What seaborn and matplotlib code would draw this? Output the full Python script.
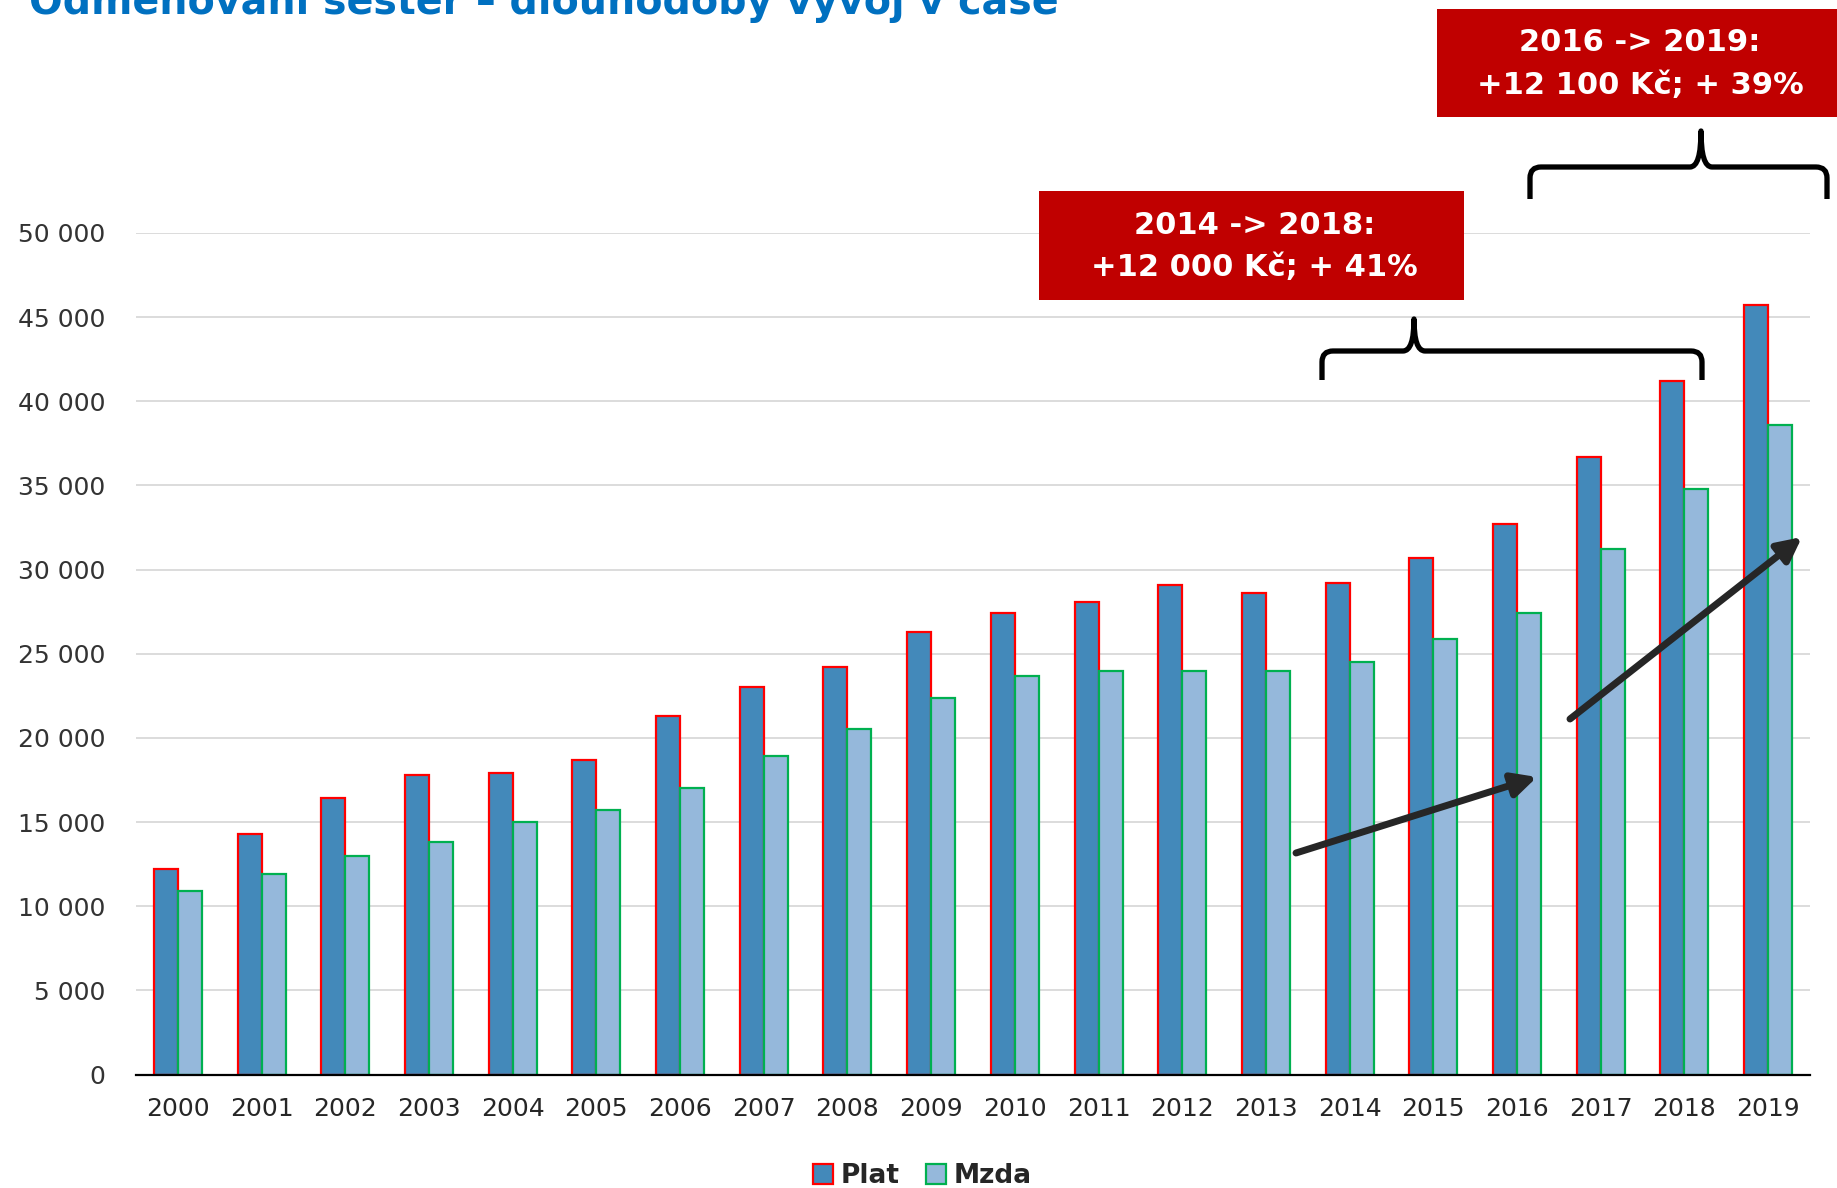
import pandas as pd
import seaborn as sns
import matplotlib.pyplot as plt
from matplotlib.path import Path
from matplotlib.patches import PathPatch, Rectangle
from matplotlib.ticker import FuncFormatter, MultipleLocator, FixedLocator

#region 1. Data
years = [str(y) for y in range(2000, 2020)]
plat = [12200, 14300, 16400, 17800, 17900, 18700, 21300, 23000, 24200, 26300,
        27400, 28100, 29100, 28600, 29200, 30700, 32700, 36700, 41200, 45700]
mzda = [10900, 11900, 13000, 13800, 15000, 15700, 17000, 18900, 20500, 22400,
        23700, 24000, 24000, 24000, 24500, 25900, 27400, 31200, 34800, 38600]
series_names = ['Plat', 'Mzda']
title = 'Odměňování sester – dlouhodobý vývoj v čase'
box_texts = ['2014 -> 2018:\n+12 000 Kč; + 41%', '2016 -> 2019:\n+12 100 Kč; + 39%']

df = pd.DataFrame({'year': years * 2,
                   'value': plat + mzda,
                   'series': ['Plat'] * len(years) + ['Mzda'] * len(years)})
#endregion

#region 2. Figure
sns.set_style('white')
plt.rcParams['font.family'] = ['DejaVu Sans']

W, H = 1837, 1188
fig = plt.figure(figsize=(W / 100, H / 100), dpi=100)
ax = fig.add_axes([136 / W, 1 - 1074.5 / H, (1810 - 136) / W, (1074.5 - 233) / H])

fills = {'Plat': '#4389BA', 'Mzda': '#95B8DB'}
edges = {'Plat': '#FF0000', 'Mzda': '#00B050'}
sns.barplot(data=df, x='year', y='value', hue='series', hue_order=series_names,
            palette=fills, saturation=1, width=0.574, ax=ax, zorder=3)
for cont, name in zip(ax.containers, series_names):
    for bar in cont:
        bar.set_edgecolor(edges[name])
        bar.set_linewidth(1.6)
ax.get_legend().remove()

ax.set_ylim(0, 50000)
ax.set_xlim(-0.5, len(years) - 0.5)
ax.yaxis.set_major_locator(MultipleLocator(5000))
ax.yaxis.set_major_formatter(FuncFormatter(lambda v, p: f'{v:,.0f}'.replace(',', ' ')))
ax.grid(axis='y', color='#D9D9D9', linewidth=1.3, zorder=0)
ax.set_axisbelow(True)
for s in ['top', 'right', 'left']:
    ax.spines[s].set_visible(False)
ax.spines['bottom'].set_color('black')
ax.spines['bottom'].set_linewidth(1.6)
ax.spines['bottom'].set_zorder(5)
ax.set_xlabel('')
ax.set_ylabel('')
ax.tick_params(axis='y', length=0, pad=22, labelsize=18, labelcolor='#333333')
ax.tick_params(axis='x', which='major', length=0, pad=16, labelsize=18, labelcolor='#262626')
ax.xaxis.set_minor_locator(FixedLocator([i - 0.5 for i in range(len(years) + 1)]))
ax.tick_params(axis='x', which='minor', length=8, width=1.6, color='black', direction='out')

handles = ax.containers[0].patches[:1] + ax.containers[1].patches[:1]
leg = fig.legend(handles, series_names, loc='center', bbox_to_anchor=(0.502, 0.010), ncol=2,
                 frameon=False, handlelength=0.75, handleheight=0.75, handletextpad=0.3,
                 columnspacing=1.0, prop={'weight': 'bold', 'size': 19})
for t in leg.get_texts():
    t.set_color('#262626')
#endregion

#region 3. Annotations (overlay in pixel coordinates)
ov = fig.add_axes([0, 0, 1, 1], zorder=10)
ov.set_xlim(0, W)
ov.set_ylim(H, 0)
ov.axis('off')
ov.patch.set_alpha(0)

# title is cut at the top edge, as in the source slide
ov.text(29, 14, title, ha='left', va='baseline', color='#0070C0',
        fontsize=28.5, fontweight='bold', clip_on=False)

# red boxes
for (x0, y0, x1, y1), txt in zip([(1039, 191, 1464, 300), (1437, 9, 1837, 117)], box_texts):
    ov.add_patch(Rectangle((x0, y0), x1 - x0, y1 - y0, facecolor='#C00000', edgecolor='none'))
    ov.text((x0 + x1) / 2 + 3, (y0 + y1) / 2 + 1, txt, ha='center', va='center', color='white',
            fontsize=22, fontweight='bold', linespacing=1.6)


def brace(x0, x1, pk, yh, yend, ytop, r=11):
    verts = [(x0, yend), (x0, yh + r), (x0, yh), (x0 + r, yh), (pk - r, yh),
             (pk, yh), (pk, ytop), (pk, yh), (pk + r, yh), (x1 - r, yh),
             (x1, yh), (x1, yh + r), (x1, yend)]
    codes = [Path.MOVETO, Path.LINETO, Path.CURVE3, Path.CURVE3, Path.LINETO,
             Path.CURVE3, Path.CURVE3, Path.CURVE3, Path.CURVE3, Path.LINETO,
             Path.CURVE3, Path.CURVE3, Path.LINETO]
    ov.add_patch(PathPatch(Path(verts, codes), facecolor='none', edgecolor='black',
                           linewidth=3.8, capstyle='butt', joinstyle='round'))


brace(1322, 1702, 1414, 351, 380, 319)
brace(1530, 1827, 1701, 167, 199, 131)

for (xs, ys), (xe, ye) in [((1296, 853), (1537, 777)), ((1570, 719), (1802, 537))]:
    ov.annotate('', xy=(xe, ye), xytext=(xs, ys),
                arrowprops=dict(arrowstyle='-|>', lw=5, color='#262626',
                                mutation_scale=36, shrinkA=0, shrinkB=0))
#endregion

fig.savefig('out.png', dpi=100)
